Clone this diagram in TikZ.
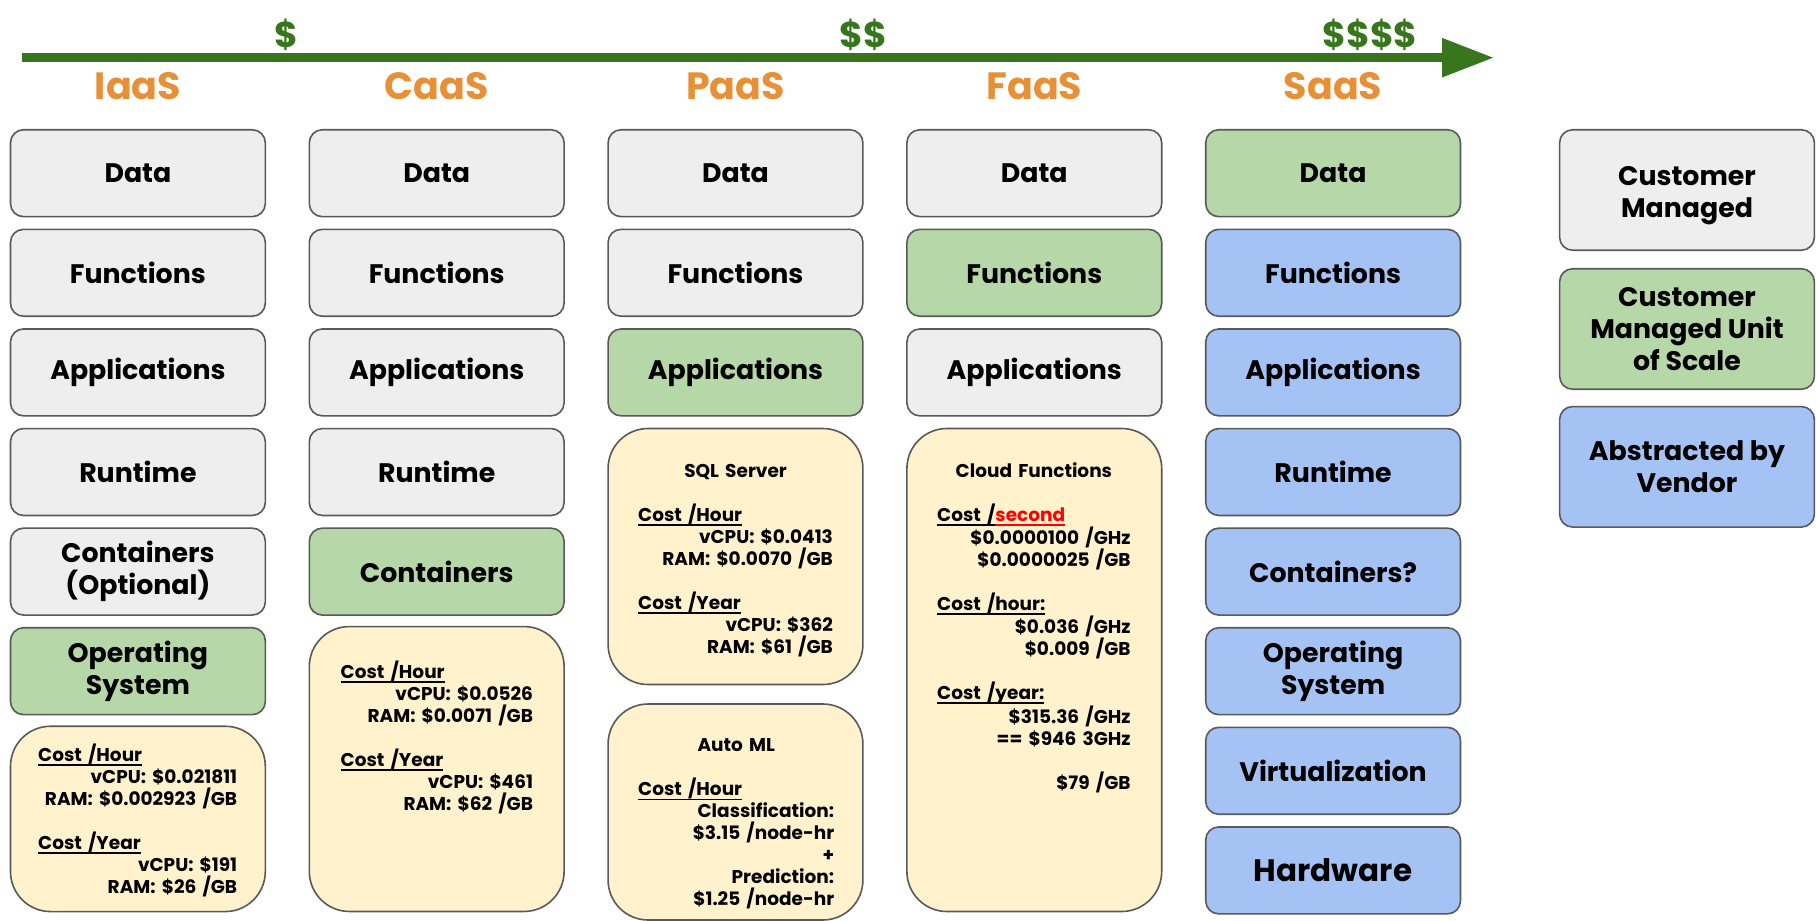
\documentclass[tikz,border=0pt]{standalone}
\usepackage{fontspec}
\setmainfont{Poppins}
\usetikzlibrary{arrows.meta}
\definecolor{cgray}{HTML}{EEEEEE}
\definecolor{cgreen}{HTML}{B6D7A8}
\definecolor{cblue}{HTML}{A4C2F4}
\definecolor{cyel}{HTML}{FFF2CC}
\definecolor{cline}{HTML}{595959}
\definecolor{corange}{HTML}{E69138}
\definecolor{carrow}{HTML}{38761D}
\newcommand\rr[1]{\leavevmode\hspace*{\fill}#1}
\newcommand\cc[1]{\leavevmode\hspace*{\fill}#1\hspace*{\fill}\mbox{}}
\newcommand\fst{\leavevmode\rule{0pt}{16pt}}
\newcommand\myul[1]{\leavevmode\setbox0\hbox{#1}\rlap{\rule[-4.5pt]{\wd0}{1.6pt}}\box0}
\lineskiplimit=-50pt\relax
\tikzset{
  layer/.style={draw=cline, line width=1.6pt, rounded corners=13pt,
    minimum width=254.8pt, minimum height=86.9pt, inner sep=0pt,
    align=center, font=\bfseries\fontsize{26.8}{32}\selectfont},
  gr/.style={layer, fill=cgray},
  gn/.style={layer, fill=cgreen},
  bl/.style={layer, fill=cblue},
  costbox/.style={draw=cline, line width=1.6pt, rounded corners=40pt,
    fill=cyel, minimum width=254.8pt, inner sep=0pt},
  costtxt/.style={anchor=north west, inner sep=0pt, align=left,
    font=\bfseries\fontsize{18.5}{22}\selectfont},
  title/.style={text=corange, font=\bfseries\fontsize{38}{40}\selectfont, inner sep=0pt},
  dollar/.style={text=carrow, font=\bfseries\fontsize{36}{40}\selectfont, inner sep=0pt},
}
\begin{document}
\begin{tikzpicture}[x=1pt,y=-1pt]
\useasboundingbox (0,0) rectangle (1816,921);
\clip (0,0) rectangle (1816,921);
% arrow
\coordinate (as) at (22,57.7);
\coordinate (ae) at (1494,57.7);
\draw[carrow, line width=8.7pt, -{Triangle[length=52pt 0 0, width=37pt 0 0]}] (as) -- (ae);
\node[dollar] (d1) at (286,35) {\$};
\node[dollar] (d2) at (863,35) {\$\$};
\node[dollar] (d4) at (1370,35) {\$\$\$\$};
% titles
\node[title] (tI) at (137.9,86) {IaaS};
\node[title] (tC) at (436.7,86) {CaaS};
\node[title] (tP) at (735.5,86) {PaaS};
\node[title] (tF) at (1034.3,86) {FaaS};
\node[title] (tS) at (1333.1,86) {SaaS};
% IaaS
\node[gr] (i1) at (137.9,173.2) {Data};
\node[gr] (i2) at (137.9,272.8) {Functions};
\node[gr] (i3) at (137.9,372.4) {Applications};
\node[gr] (i4) at (137.9,472) {Runtime};
\node[gr] (i5) at (137.9,571.6) {Containers\\(Optional)};
\node[gn] (i6) at (137.9,671.2) {Operating\\System};
\node[costbox, minimum height=185.3pt] (ic) at (137.9,818.9) {};
\node[costtxt, text width=199pt] (ict) at (38,743.5) {\fst\myul{Cost /Hour}\\
\rr{vCPU: \$0.021811}\\
\rr{RAM: \$0.002923 /GB}\\[22pt]
\myul{Cost /Year}\\
\rr{vCPU: \$191}\\
\rr{RAM: \$26 /GB}};
% CaaS
\node[gr] (c1) at (436.7,173.2) {Data};
\node[gr] (c2) at (436.7,272.8) {Functions};
\node[gr] (c3) at (436.7,372.4) {Applications};
\node[gr] (c4) at (436.7,472) {Runtime};
\node[gn] (c5) at (436.7,571.6) {Containers};
\node[costbox, minimum height=284.9pt] (cc) at (436.7,769) {};
\node[costtxt, text width=192.3pt] (cct) at (340.5,660.4) {\fst\myul{Cost /Hour}\\
\rr{vCPU: \$0.0526}\\
\rr{RAM: \$0.0071 /GB}\\[22pt]
\myul{Cost /Year}\\
\rr{vCPU: \$461}\\
\rr{RAM: \$62 /GB}};
% PaaS
\node[gr] (p1) at (735.5,173.2) {Data};
\node[gr] (p2) at (735.5,272.8) {Functions};
\node[gn] (p3) at (735.5,372.4) {Applications};
\node[costbox, minimum height=256pt] (ps) at (735.5,556.5) {};
\node[costtxt, text width=194.7pt] (pst) at (638,461.2) {\fst\cc{SQL Server}\\[22pt]
\myul{Cost /Hour}\\
\rr{vCPU: \$0.0413}\\
\rr{RAM: \$0.0070 /GB}\\[22pt]
\myul{Cost /Year}\\
\rr{vCPU: \$362}\\
\rr{RAM: \$61 /GB}};
\node[costbox, minimum height=216pt] (pa) at (735.5,812) {};
\node[costtxt, text width=196pt] (pat) at (638,735.7) {\fst\cc{Auto ML}\\[22pt]
\myul{Cost /Hour}\\
\rr{Classification:}\\
\rr{\$3.15 /node-hr}\\
\rr{+}\\
\rr{Prediction:}\\
\rr{\$1.25 /node-hr}};
% FaaS
\node[gr] (f1) at (1034.3,173.2) {Data};
\node[gn] (f2) at (1034.3,272.8) {Functions};
\node[gr] (f3) at (1034.3,372.4) {Applications};
\node[costbox, minimum height=483pt] (fc) at (1034.3,670) {};
\node[costtxt, text width=193.4pt] (fct) at (937,461.2) {\fst\cc{Cloud Functions}\\[22pt]
\myul{Cost /}\textcolor{red}{\myul{second}}\\
\rr{\$0.0000100 /GHz}\\
\rr{\$0.0000025 /GB}\\[22pt]
\myul{Cost /hour:}\\
\rr{\$0.036 /GHz}\\
\rr{\$0.009 /GB}\\[22pt]
\myul{Cost /year:}\\
\rr{\$315.36 /GHz}\\
\rr{== \$946 3GHz}\\[22pt]
\rr{\$79 /GB}};
% SaaS
\node[gn] (s1) at (1333.1,173.2) {Data};
\node[bl] (s2) at (1333.1,272.8) {Functions};
\node[bl] (s3) at (1333.1,372.4) {Applications};
\node[bl] (s4) at (1333.1,472) {Runtime};
\node[bl] (s5) at (1333.1,571.6) {Containers?};
\node[bl] (s6) at (1333.1,671.2) {Operating\\System};
\node[bl] (s7) at (1333.1,770.8) {Virtualization};
\node[bl, font=\bfseries\fontsize{31}{36}\selectfont] (s8) at (1333.1,870.4) {Hardware};
% legend
\node[gr, minimum height=120.5pt] (l1) at (1687,190) {\rule{0pt}{30pt}Customer\\Managed};
\node[gn, minimum height=120.5pt] (l2) at (1687,329) {Customer\\Managed Unit\\of Scale};
\node[bl, minimum height=120.5pt] (l3) at (1687,466.8) {Abstracted by\\Vendor};
\end{tikzpicture}
\end{document}
